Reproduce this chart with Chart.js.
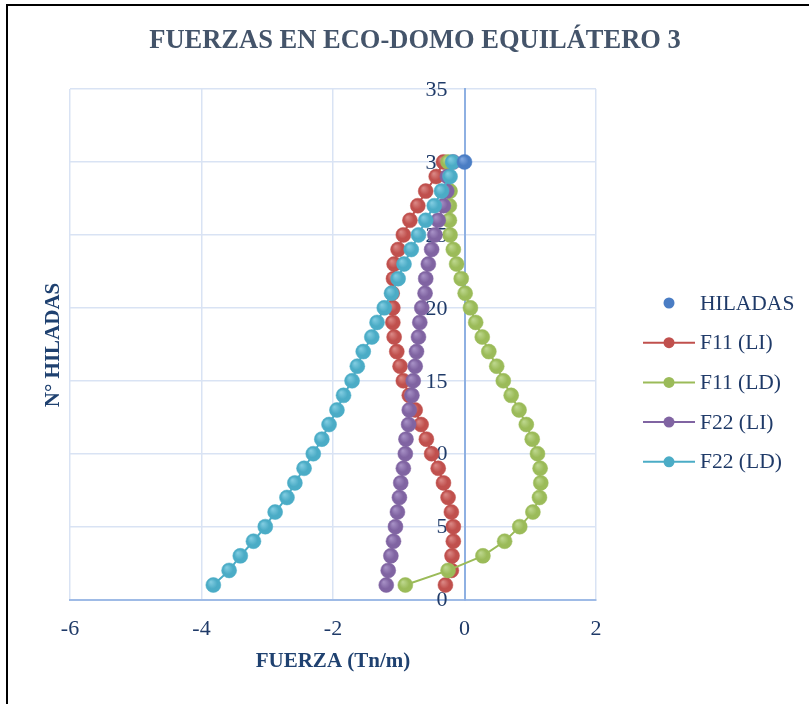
<!DOCTYPE html>
<html>
<head>
<meta charset="utf-8">
<script src="https://cdn.jsdelivr.net/npm/chart.js@4.4.1/dist/chart.umd.min.js"></script>
<style>
    html, body { margin: 0; padding: 0; background: #fff; overflow: hidden; }
    #wrap { position: relative; width: 809px; height: 704px; }
    #frame { position: absolute; left: 6px; top: 4px; right: -10px; bottom: -10px;
             border-left: 2px solid #000; border-top: 2px solid #000; pointer-events: none; }
    canvas { position: absolute; left: 0; top: 0; }
</style>
</head>
<body>
<div id="wrap">
    <canvas id="fuerzasChart" width="809" height="704"></canvas>
    <div id="frame"></div>
</div>
<script>
// hiladas (rows) 1..30
const hiladas = [1, 2, 3, 4, 5, 6, 7, 8, 9, 10, 11, 12, 13, 14, 15,
                 16, 17, 18, 19, 20, 21, 22, 23, 24, 25, 26, 27, 28, 29, 30];

const hiladasX = [0];
const hiladasY = [30];

const f11LI = [-0.29, -0.20, -0.19, -0.17, -0.17, -0.20, -0.25, -0.32, -0.40, -0.50,
               -0.58, -0.66, -0.75, -0.84, -0.93, -0.98, -1.03, -1.07, -1.09, -1.09,
               -1.10, -1.08, -1.07, -1.01, -0.93, -0.83, -0.71, -0.59, -0.43, -0.32];

const f11LD = [-0.90, -0.25, 0.28, 0.61, 0.84, 1.04, 1.14, 1.16, 1.15, 1.11,
               1.03, 0.94, 0.83, 0.71, 0.59, 0.49, 0.37, 0.27, 0.17, 0.09,
               0.01, -0.05, -0.12, -0.17, -0.22, -0.23, -0.23, -0.22, -0.24, -0.25];

const f22LI = [-1.19, -1.16, -1.12, -1.08, -1.05, -1.02, -0.99, -0.97, -0.93, -0.90,
               -0.89, -0.85, -0.84, -0.80, -0.78, -0.75, -0.73, -0.70, -0.68, -0.65,
               -0.60, -0.59, -0.55, -0.50, -0.45, -0.40, -0.32, -0.27, -0.26, -0.17];

const f22LD = [-3.82, -3.58, -3.41, -3.21, -3.03, -2.88, -2.70, -2.58, -2.44, -2.30,
               -2.17, -2.06, -1.94, -1.84, -1.71, -1.63, -1.54, -1.41, -1.33, -1.22,
               -1.11, -1.01, -0.92, -0.81, -0.70, -0.59, -0.46, -0.35, -0.22, -0.18];

const seriesNames = ['HILADAS', 'F11 (LI)', 'F11 (LD)', 'F22 (LI)', 'F22 (LD)'];
const seriesColors = ['#4a7dc4', '#c0504d', '#9bbb59', '#8064a2', '#4bacc6'];
const seriesLight = ['#7ea6e0', '#d98683', '#bcd68c', '#a58fc4', '#7fcbe0'];

const serif = "'Liberation Serif', 'Times New Roman', serif";
const tickColor = '#1f3a68';
const titleColor = '#1f4170';

function toPoints(xs, ys) {
    return xs.map((x, i) => ({ x: x, y: ys[i] }));
}

// little shaded ball like the office marker
function ballFill(idx) {
    return function(context) {
        const chart = context.chart;
        const p = context.parsed;
        if (!chart.chartArea || !p || !chart.scales.x) return seriesColors[idx];
        const px = chart.scales.x.getPixelForValue(p.x);
        const py = chart.scales.y.getPixelForValue(p.y);
        if (!isFinite(px) || !isFinite(py)) return seriesColors[idx];
        const g = chart.ctx.createRadialGradient(px - 2.5, py - 3, 0.5, px, py, 8);
        g.addColorStop(0, seriesLight[idx]);
        g.addColorStop(0.6, seriesColors[idx]);
        g.addColorStop(1, seriesColors[idx]);
        return g;
    };
}

function makeSet(idx, xs, ys, order, line) {
    return {
        label: seriesNames[idx],
        data: toPoints(xs, ys),
        showLine: line,
        borderColor: seriesColors[idx],
        backgroundColor: seriesColors[idx],
        pointBackgroundColor: ballFill(idx),
        borderWidth: 2,
        pointRadius: 7.5,
        pointHoverRadius: 7.5,
        pointBorderWidth: 0.5,
        pointBorderColor: seriesColors[idx],
        order: order
    };
}

// y tick labels next to the axis that crosses at x = 0
const yLabelsPlugin = {
    id: 'yLabels',
    beforeDatasetsDraw(chart) {
        const c = chart.ctx;
        const xs = chart.scales.x, ys = chart.scales.y;
        const x0 = xs.getPixelForValue(0) - 17;
        c.save();
        c.font = '22px ' + serif;
        c.fillStyle = tickColor;
        c.textAlign = 'right';
        c.textBaseline = 'middle';
        ys.ticks.forEach(t => {
            c.fillText(String(t.value), x0, ys.getPixelForValue(t.value) + 1);
        });
        c.restore();
    }
};

// draws title, axis titles and the legend
const decorPlugin = {
    id: 'decor',
    afterDraw(chart) {
        const c = chart.ctx;
        c.save();
        c.textAlign = 'center';
        c.textBaseline = 'middle';
        c.fillStyle = '#44546a';
        c.font = 'bold 26.5px ' + serif;
        c.fillText('FUERZAS EN ECO-DOMO EQUILÁTERO 3', 415, 41);

        c.fillStyle = titleColor;
        c.font = 'bold 21px ' + serif;
        c.fillText('FUERZA (Tn/m)', 333, 662);

        c.translate(54, 345);
        c.rotate(-Math.PI / 2);
        c.fillText('N° HILADAS', 0, 0);
        c.restore();

        c.save();
        c.font = '21.5px ' + serif;
        c.textBaseline = 'middle';
        c.textAlign = 'left';
        seriesNames.forEach((name, i) => {
            const y = 303 + i * 39.7;
            c.strokeStyle = seriesColors[i];
            c.fillStyle = seriesColors[i];
            if (i > 0) {
                c.lineWidth = 2;
                c.beginPath();
                c.moveTo(643, y);
                c.lineTo(695, y);
                c.stroke();
            }
            c.beginPath();
            c.arc(669, y, 5.5, 0, Math.PI * 2);
            c.fill();
            c.fillStyle = tickColor;
            c.fillText(name, 700, y + 1);
        });
        c.restore();
    }
};

const ctx = document.getElementById('fuerzasChart').getContext('2d');
new Chart(ctx, {
    type: 'scatter',
    data: {
        datasets: [
            makeSet(0, hiladasX, hiladasY, 0, false),
            makeSet(1, f11LI, hiladas, 4, true),
            makeSet(2, f11LD, hiladas, 3, true),
            makeSet(3, f22LI, hiladas, 2, true),
            makeSet(4, f22LD, hiladas, 1, true)
        ]
    },
    options: {
        responsive: false,
        animation: false,
        layout: { padding: { left: 70, top: 89, right: 213, bottom: 46 } },
        plugins: {
            legend: { display: false },
            title: { display: false },
            tooltip: { enabled: false }
        },
        scales: {
            x: {
                type: 'linear',
                min: -6,
                max: 2,
                ticks: { stepSize: 2, padding: 16, color: tickColor, font: { family: serif, size: 22 } },
                grid: { color: '#d9e3f4', lineWidth: 1.5, drawTicks: false },
                border: { color: '#9fbbe6', width: 2 }
            },
            y: {
                type: 'linear',
                position: { x: 0 },
                min: 0,
                max: 35,
                ticks: { stepSize: 5, display: false },
                grid: { color: '#d9e3f4', lineWidth: 1.5, drawTicks: false },
                border: { color: '#8eb0e2', width: 2 }
            }
        }
    },
    plugins: [yLabelsPlugin, decorPlugin]
});
</script>
</body>
</html>
